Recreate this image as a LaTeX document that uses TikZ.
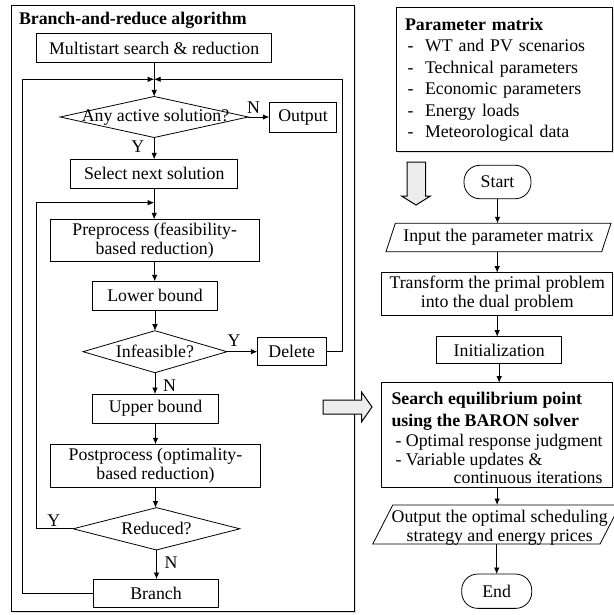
\documentclass[tikz,border=0pt]{standalone}
\usepackage{fontspec}
\setmainfont{Liberation Serif}
\usetikzlibrary{shapes.geometric,arrows.meta,shadows}
\begin{document}
\begin{tikzpicture}[x=1pt,y=-1pt,
  every node/.style={font=\fontsize{17.8}{18.7}\selectfont, inner sep=0pt, outer sep=0pt},
  proc/.style={draw, line width=0.8pt, align=center},
  dia/.style={diamond, draw, line width=0.8pt},
  term/.style={draw, line width=0.8pt, rounded corners=16pt},
  iobody/.style={rectangle, align=center},
  ioline/.style={draw, line width=0.8pt, line join=miter},
  conn/.style={line width=0.8pt, -{Latex[length=6.5pt,width=5.5pt]}},
  hollow/.style={draw, line width=1pt, fill=black!7, line join=miter},
  framebox/.style={draw, line width=1.1pt, fill=white, drop shadow={shadow xshift=1.5pt, shadow yshift=-1.5pt, fill=black!25}},
]
\useasboundingbox (0,0) rectangle (613,615);

% ---------- left frame ----------
\node[framebox, minimum width=343pt, minimum height=606pt] (brbox) at (183,308.6) {};
\node[font=\fontsize{17.8}{18.7}\selectfont\bfseries, anchor=base west] (title) at (19,24.5) {Branch-and-reduce algorithm};

\node[proc, minimum width=235pt, minimum height=29.4pt] (multi) at (154.2,48) {Multistart search \& reduction};
\coordinate (join) at (154.2,79.3);
\node[dia, minimum width=188pt, minimum height=41pt] (q1) at (154.2,117) {};
\node (q1t) at (155.5,117) {Any active solution?};
\node[proc, minimum width=67.4pt, minimum height=29.6pt] (out) at (303,117.5) {Output};
\node[proc, minimum width=167.3pt, minimum height=29pt] (sel) at (154.2,173.8) {Select next solution};
\coordinate (join2) at (154.2,202.7);
\node[proc, minimum width=209.3pt, minimum height=42.4pt] (pre) at (154.7,240.5) {Preprocess (feasibility-\\based reduction)};
\node[proc, minimum width=125.4pt, minimum height=28.7pt] (low) at (155,295.7) {Lower bound};
\node[dia, minimum width=144pt, minimum height=42pt] (q2) at (155,351.7) {};
\node (q2t) at (q2) {Infeasible?};
\node[proc, minimum width=68.7pt, minimum height=27.7pt] (del) at (291.7,351.7) {Delete};
\node[proc, minimum width=125.7pt, minimum height=29.3pt] (up) at (155.5,408.7) {Upper bound};
\node[proc, minimum width=209.3pt, minimum height=43pt] (post) at (155.5,465.8) {Postprocess (optimality-\\based reduction)};
\node[dia, minimum width=166.7pt, minimum height=42.3pt] (q3) at (156.5,528.8) {};
\node (q3t) at (q3) {Reduced?};
\node[proc, minimum width=125.6pt, minimum height=28.3pt] (br) at (156,593.2) {Branch};

\coordinate (lx1) at (22.7,0);
\coordinate (lx2) at (36,0);
\coordinate (rx) at (342.7,0);

\draw[conn] (multi.south) -- (multi.south |- q1.north);
\draw[conn] (q1.east) -- (q1.east -| out.west) node[pos=0.25, above=3.5pt] {N};
\draw[conn] (q1.south) -- (q1.south |- sel.north) node[pos=0.43, left=10pt] {Y};
\draw[conn] (sel.south) -- (sel.south |- pre.north);
\draw[conn] (pre.south) -- (pre.south |- low.north);
\draw[conn] (low.south) -- (low.south |- q2.north);
\draw[conn] (q2.east) -- (del.west) node[pos=0.23, above=5pt] {Y};
\draw[conn] (q2.south) -- (q2.south |- up.north) node[pos=0.62, right=8pt] {N};
\draw[conn] (up.south) -- (up.south |- post.north);
\draw[conn] (post.south) -- (post.south |- q3.north);
\draw[conn] (q3.south) -- (q3.south |- br.north) node[pos=0.43, right=8pt] {N};
\draw[conn] (q3.west) -- (q3.west -| lx2) node[pos=0.52, above=2pt] {Y} |- (join2);
\draw[conn] (br.west) -- (br.west -| lx1) |- (join);
\draw[conn] (del.east) -- (del.east -| rx) |- (join);

% ---------- right column ----------
\node[proc, framebox, text width=199pt, align=left, inner xsep=8.3pt, minimum height=144.4pt,
      font=\fontsize{17.8}{21.5}\selectfont] (par) at (504.5,79.5)
  {\textbf{Parameter matrix}\\
   \makebox[20pt][l]{\hspace{2.5pt}-}WT and PV scenarios\\
   \makebox[20pt][l]{\hspace{2.5pt}-}Technical parameters\\
   \makebox[20pt][l]{\hspace{2.5pt}-}Economic parameters\\
   \makebox[20pt][l]{\hspace{2.5pt}-}Energy loads\\
   \makebox[20pt][l]{\hspace{2.5pt}-}Meteorological data};

\node[term, minimum width=67pt, minimum height=33.5pt] (start) at (497.5,182) {Start};
\node[iobody, minimum width=215.7pt, minimum height=28.4pt] (inp) at (498.5,237.5) {Input the parameter matrix};
\draw[ioline] ([xshift=-4.65pt]inp.south west) -- ([xshift=-4.65pt]inp.south east)
  -- ([xshift=4.65pt]inp.north east) -- ([xshift=4.65pt]inp.north west) -- cycle;
\node[proc, minimum width=231pt, minimum height=42.3pt] (tr) at (497.2,293.8) {Transform the primal problem\\into the dual problem};
\node[proc, minimum width=125pt, minimum height=26.6pt] (ini) at (499.2,350) {Initialization};
\node[proc, align=left, minimum width=230.8pt, minimum height=104.6pt,
      font=\fontsize{17.8}{20}\selectfont] (srch) at (497.1,435)
  {\rule{0pt}{19pt}\textbf{Search equilibrium point}\\[1.5pt]
   \textbf{using the BARON solver}\\
   \hspace*{4pt}- Optimal response judgment\\[-1pt]
   \hspace*{4pt}- Variable updates \&\\[-1.5pt]
   \makebox[211pt][r]{continuous iterations}};
\node[iobody, minimum width=227.3pt, minimum height=39pt] (outp) at (496.4,524.5) {};
\draw[ioline] ([xshift=-10pt]outp.south west) -- ([xshift=-10pt]outp.south east)
  -- ([xshift=10pt]outp.north east) -- ([xshift=10pt]outp.north west) -- cycle;
\node[align=center] (outpt) at (499.7,527.5) {Output the optimal scheduling\\strategy and energy prices};
\node[term, minimum width=70pt, minimum height=34.3pt] (end) at (496.7,591.2) {End};

\draw[conn] (start.south) -- (start.south |- inp.north);
\draw[conn] (tr.north |- inp.south) -- (tr.north);
\draw[conn] (tr.south) -- (tr.south |- ini.north);
\draw[conn] (ini.south) -- (ini.south |- srch.north);
\draw[conn] (srch.south) -- (srch.south |- outp.north);
\draw[conn] (end.north |- outp.south) -- (end.north);

% ---------- hollow arrows ----------
\draw[hollow] (407,162) -- (425.5,162) -- (425.5,196) -- (430.5,196) -- (416,205) -- (401.5,196) -- (407,196) -- cycle;
\draw[hollow] (323,400) -- (361.5,400) -- (361.5,392) -- (372,407) -- (361.5,422) -- (361.5,414) -- (323,414) -- cycle;
\end{tikzpicture}
\end{document}
